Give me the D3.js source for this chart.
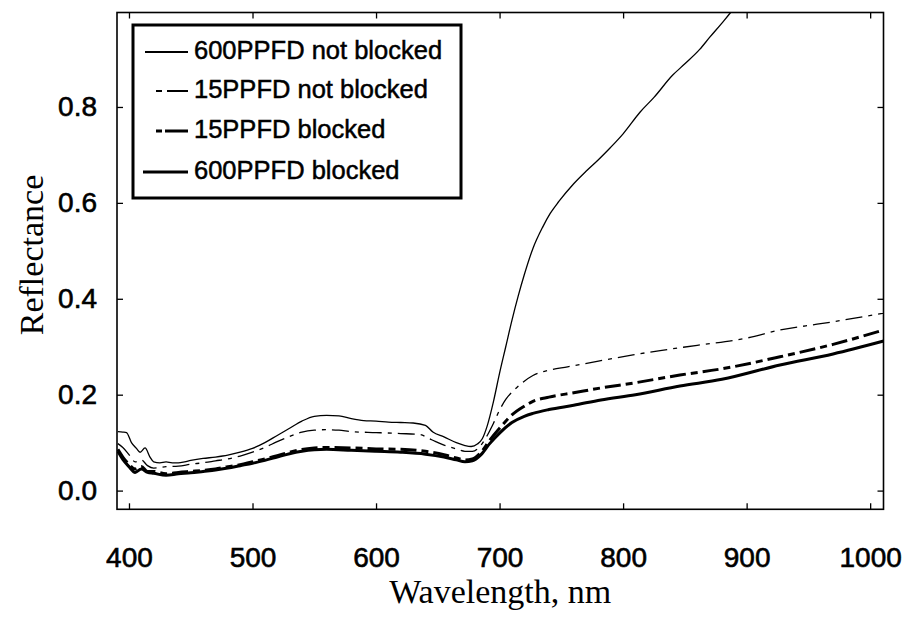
<!DOCTYPE html>
<html>
<head>
<meta charset="utf-8">
<script src="https://cdn.jsdelivr.net/npm/d3@7/dist/d3.min.js"></script>
<style>
  body { margin: 0; background: #fff; }
  .tick-label { font-family: "Liberation Sans", Arial, sans-serif; font-size: 28px; fill: #000; stroke: #000; stroke-width: 0.6px; }
  .title { font-family: "Liberation Serif", "Times New Roman", serif; font-size: 34px; fill: #000; }
  .legend-text { font-family: "Liberation Sans", Arial, sans-serif; font-size: 25.5px; fill: #000; stroke: #000; stroke-width: 0.5px; }
</style>
</head>
<body>
<svg id="chart" width="905" height="621"></svg>
<script>
// tick values
const xTicks = [400, 500, 600, 700, 800, 900, 1000];
const yTicks = [0.0, 0.2, 0.4, 0.6, 0.8];

const seriesNames = ["600PPFD not blocked", "15PPFD not blocked", "15PPFD blocked", "600PPFD blocked"];

// 600PPFD not blocked (thin solid)
const wl600nb = [391, 395, 398, 402, 406, 409, 413, 417, 420, 425, 430, 435, 440, 445, 450, 460, 470, 480, 490, 500,
  510, 520, 530, 540, 550, 560, 570, 580, 590, 600, 610, 620, 630, 640, 646, 655, 665, 672, 677, 682, 686, 690, 695,
  700, 705, 710, 715, 720, 727, 735, 741, 748, 760, 770, 780, 790, 800, 814, 825, 840, 850, 862, 870, 880, 887, 892];
const r600nb = [0.123, 0.122, 0.121, 0.100, 0.088, 0.080, 0.089, 0.070, 0.060, 0.058, 0.060, 0.058, 0.058, 0.060, 0.063, 0.067, 0.070, 0.074, 0.080, 0.088,
  0.100, 0.115, 0.130, 0.145, 0.155, 0.157, 0.156, 0.150, 0.146, 0.145, 0.143, 0.142, 0.141, 0.136, 0.122, 0.112, 0.100, 0.094, 0.092, 0.097, 0.108, 0.135, 0.185,
  0.245, 0.300, 0.355, 0.405, 0.450, 0.505, 0.550, 0.578, 0.603, 0.640, 0.666, 0.690, 0.716, 0.744, 0.790, 0.820, 0.866, 0.890, 0.920, 0.945, 0.975, 0.997, 1.015];

// 15PPFD not blocked (thin dash-dot)
const wl15nb = [391, 395, 400, 405, 410, 415, 420, 430, 440, 450, 460, 470, 480, 490, 500, 510, 520, 530, 540, 550,
  560, 570, 580, 600, 620, 635, 645, 655, 665, 672, 678, 685, 690, 695, 700, 705, 714, 727, 740, 755, 780, 808, 830,
  860, 900, 927, 960, 1011];
const r15nb = [0.098, 0.090, 0.075, 0.060, 0.064, 0.052, 0.047, 0.050, 0.051, 0.055, 0.058, 0.062, 0.066, 0.072, 0.080, 0.090, 0.102, 0.113, 0.122, 0.126,
  0.127, 0.126, 0.123, 0.121, 0.119, 0.117, 0.106, 0.095, 0.087, 0.082, 0.082, 0.095, 0.115, 0.140, 0.168, 0.190, 0.215, 0.240, 0.251, 0.258, 0.270, 0.283, 0.292,
  0.303, 0.318, 0.335, 0.348, 0.370];

// 15PPFD blocked (thick dash-dot)
const wl15b = [391, 395, 400, 405, 410, 415, 420, 430, 440, 450, 460, 470, 480, 490, 500, 510, 520, 530, 540, 550,
  560, 580, 600, 620, 640, 655, 665, 672, 678, 685, 692, 700, 710, 720, 727, 740, 760, 782, 810, 846, 880, 927, 970, 1011];
const r15b = [0.086, 0.070, 0.055, 0.045, 0.050, 0.040, 0.040, 0.035, 0.038, 0.040, 0.042, 0.045, 0.050, 0.054, 0.060, 0.066, 0.073, 0.080, 0.086, 0.089,
  0.090, 0.089, 0.087, 0.086, 0.082, 0.075, 0.068, 0.064, 0.066, 0.080, 0.105, 0.130, 0.158, 0.176, 0.186, 0.195, 0.204, 0.214, 0.225, 0.241, 0.254, 0.279, 0.305, 0.335];

// 600PPFD blocked (thick solid)
const wl600b = [391, 395, 400, 405, 410, 415, 420, 430, 440, 450, 460, 470, 480, 490, 500, 510, 520, 530, 540, 550,
  560, 580, 600, 620, 640, 655, 665, 672, 678, 685, 692, 700, 710, 720, 727, 740, 760, 782, 810, 846, 880, 927, 970, 1011];
const r600b = [0.082, 0.065, 0.050, 0.038, 0.045, 0.038, 0.036, 0.032, 0.035, 0.037, 0.040, 0.043, 0.047, 0.052, 0.057, 0.063, 0.070, 0.077, 0.082, 0.085,
  0.086, 0.084, 0.082, 0.080, 0.076, 0.070, 0.064, 0.060, 0.062, 0.075, 0.098, 0.120, 0.142, 0.155, 0.161, 0.169, 0.178, 0.189, 0.200, 0.218, 0.232, 0.262, 0.285, 0.312];

const series = [
  { name: seriesNames[0], wl: wl600nb, r: r600nb, width: 1.3, dash: null },
  { name: seriesNames[1], wl: wl15nb, r: r15nb, width: 1.3, dash: "17,6,4,6" },
  { name: seriesNames[2], wl: wl15b, r: r15b, width: 3, dash: "16,5,7,5" },
  { name: seriesNames[3], wl: wl600b, r: r600b, width: 3, dash: null }
];

const plotLeft = 117, plotRight = 883.5, plotTop = 12.5, plotBottom = 509.3;

const x = d3.scaleLinear().domain([390.3, 1010.8]).range([plotLeft, plotRight]);
const y = d3.scaleLinear().domain([-0.039, 0.997]).range([plotBottom, plotTop]);

const svg = d3.select("#chart");

svg.append("defs").append("clipPath").attr("id", "plot-clip")
  .append("rect")
  .attr("x", plotLeft).attr("y", plotTop)
  .attr("width", plotRight - plotLeft).attr("height", plotBottom - plotTop);

// curves
const line = d3.line()
  .curve(d3.curveMonotoneX)
  .x(d => x(d[0]))
  .y(d => y(d[1]));

svg.append("g")
  .attr("clip-path", "url(#plot-clip)")
  .selectAll("path")
  .data(series)
  .enter()
  .append("path")
  .attr("d", s => line(s.wl.map((w, i) => [w, s.r[i]])))
  .attr("fill", "none")
  .attr("stroke", "#000")
  .attr("stroke-width", s => s.width)
  .attr("stroke-dasharray", s => s.dash)
  .attr("stroke-linejoin", "round");

// axes, ticks pointing inward
function styleAxis(g) {
  g.select(".domain").remove();
  g.selectAll(".tick line").attr("stroke", "#000").attr("stroke-width", 1.3);
}

svg.append("g")
  .attr("transform", `translate(0,${plotBottom})`)
  .call(d3.axisBottom(x).tickValues(xTicks).tickSize(-6).tickPadding(38).tickFormat(d3.format("d")))
  .call(styleAxis)
  .selectAll("text").attr("class", "tick-label").attr("font-size", null).attr("font-family", null);

svg.append("g")
  .attr("transform", `translate(0,${plotTop})`)
  .call(d3.axisTop(x).tickValues(xTicks).tickSize(-6).tickFormat(""))
  .call(styleAxis);

svg.append("g")
  .attr("transform", `translate(${plotLeft},0)`)
  .call(d3.axisLeft(y).tickValues(yTicks).tickSize(-6).tickPadding(20).tickFormat(d3.format(".1f")))
  .call(styleAxis)
  .selectAll("text").attr("class", "tick-label").attr("font-size", null).attr("font-family", null);

svg.append("g")
  .attr("transform", `translate(${plotRight},0)`)
  .call(d3.axisRight(y).tickValues(yTicks).tickSize(-6).tickFormat(""))
  .call(styleAxis);

// frame
svg.append("rect")
  .attr("x", plotLeft).attr("y", plotTop)
  .attr("width", plotRight - plotLeft).attr("height", plotBottom - plotTop)
  .attr("fill", "none")
  .attr("stroke", "#000")
  .attr("stroke-width", 1.6);

// axis titles
svg.append("text")
  .attr("class", "title")
  .attr("x", (plotLeft + plotRight) / 2)
  .attr("y", 603)
  .attr("text-anchor", "middle")
  .text("Wavelength, nm");

svg.append("text")
  .attr("class", "title")
  .attr("transform", "translate(43,255) rotate(-90)")
  .attr("text-anchor", "middle")
  .text("Reflectance");

// legend
const legend = svg.append("g");
legend.append("rect")
  .attr("x", 133).attr("y", 25)
  .attr("width", 328).attr("height", 173)
  .attr("fill", "#fff")
  .attr("stroke", "#000")
  .attr("stroke-width", 3);

const legendRows = [
  { y: 52, x1: 145, dash: null },
  { y: 91, x1: 156, dash: "6,5,22" },
  { y: 131, x1: 156, dash: "6,3,30" },
  { y: 172, x1: 143, dash: null }
];

legend.selectAll("line")
  .data(series)
  .enter()
  .append("line")
  .attr("x1", (d, i) => legendRows[i].x1)
  .attr("x2", 188)
  .attr("y1", (d, i) => legendRows[i].y)
  .attr("y2", (d, i) => legendRows[i].y)
  .attr("stroke", "#000")
  .attr("stroke-width", d => Math.max(2, d.width))
  .attr("stroke-dasharray", (d, i) => legendRows[i].dash);

legend.selectAll("text")
  .data(series)
  .enter()
  .append("text")
  .attr("class", "legend-text")
  .attr("x", 194)
  .attr("y", (d, i) => legendRows[i].y + 7)
  .text(d => d.name);
</script>
</body>
</html>
